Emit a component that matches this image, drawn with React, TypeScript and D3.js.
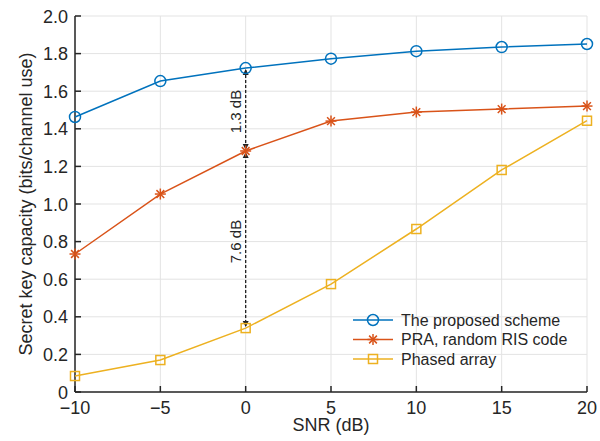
import React from "react";
import * as d3 from "d3";

const snr = [-10, -5, 0, 5, 10, 15, 20];
const proposed = [1.463, 1.654, 1.723, 1.773, 1.813, 1.835, 1.851];
const pra = [0.734, 1.053, 1.282, 1.441, 1.489, 1.505, 1.521];
const phased = [0.085, 0.17, 0.34, 0.574, 0.867, 1.181, 1.443];
const xTicks = [-10, -5, 0, 5, 10, 15, 20];
const yTicks = [0, 0.2, 0.4, 0.6, 0.8, 1.0, 1.2, 1.4, 1.6, 1.8, 2.0];
const seriesNames = ["The proposed scheme", "PRA, random RIS code", "Phased array"];
const seriesColors = ["#0072BD", "#D95319", "#EDB120"];
const annotations = ["1.3 dB", "7.6 dB"];

const W = 600, H = 441;
const L = 75, R = 587, T = 16, B = 392;
const FONT = "'Liberation Sans', Arial, Helvetica, sans-serif";

function Marker({ type, x, y, color }: { type: string; x: number; y: number; color: string }) {
  if (type === "circle") return <circle cx={x} cy={y} r={5.5} fill="none" stroke={color} strokeWidth={1.5} />;
  if (type === "square") return <rect x={x - 4.5} y={y - 4.5} width={9} height={9} fill="none" stroke={color} strokeWidth={1.5} />;
  const s = 5.5;
  const d = s * 0.707;
  return (
    <g stroke={color} strokeWidth={1.5}>
      <line x1={x - s} y1={y} x2={x + s} y2={y} />
      <line x1={x} y1={y - s} x2={x} y2={y + s} />
      <line x1={x - d} y1={y - d} x2={x + d} y2={y + d} />
      <line x1={x - d} y1={y + d} x2={x + d} y2={y - d} />
    </g>
  );
}

export default function App() {
  const x = d3.scaleLinear().domain([-10, 20]).range([L, R]);
  const y = d3.scaleLinear().domain([0, 2]).range([B, T]);
  const line = d3.line<number>().x((_, i) => x(snr[i])).y((v) => y(v));
  const series = [proposed, pra, phased];
  const markers = ["circle", "star", "square"];
  const fmtY = (v: number) => (v === 0 ? "0" : v.toFixed(1));
  const fmtX = (v: number) => (v < 0 ? "\u2212" + Math.abs(v) : String(v));

  const ax = x(0);
  const yb = y(proposed[2]);
  const yr = y(pra[2]);
  const yy = y(phased[2]);
  const arrow = (xx: number, yy0: number, dir: number) =>
    `M${xx - 3},${yy0 - dir * 6} L${xx},${yy0} L${xx + 3},${yy0 - dir * 6} Z`;

  return (
    <svg width={W} height={H} style={{ position: "absolute", left: 0, top: 0, background: "#fff" }} fontFamily={FONT}>
      {/* grid */}
      <g stroke="#e3e3e3" strokeWidth={1}>
        {xTicks.map((t) => (
          <line key={"gx" + t} x1={x(t)} x2={x(t)} y1={T} y2={B} />
        ))}
        {yTicks.map((t) => (
          <line key={"gy" + t} x1={L} x2={R} y1={y(t)} y2={y(t)} />
        ))}
      </g>
      {/* axes */}
      <g stroke="#262626" strokeWidth={1.5}>
        <line x1={L} x2={L} y1={T} y2={B} />
        <line x1={L} x2={R} y1={B} y2={B} />
        {xTicks.map((t) => (
          <line key={"tx" + t} x1={x(t)} x2={x(t)} y1={B} y2={B - 6} />
        ))}
        {yTicks.map((t) => (
          <line key={"ty" + t} x1={L} x2={L + 6} y1={y(t)} y2={y(t)} />
        ))}
      </g>
      <g fill="#262626" fontSize={18}>
        {xTicks.map((t) => (
          <text key={"lx" + t} x={x(t)} y={B + 22} textAnchor="middle">
            {fmtX(t)}
          </text>
        ))}
        {yTicks.map((t) => (
          <text key={"ly" + t} x={L - 7} y={y(t) + 6.5} textAnchor="end">
            {fmtY(t)}
          </text>
        ))}
        <text x={(L + R) / 2} y={431} textAnchor="middle">SNR (dB)</text>
        <text transform={`translate(32,${(T + B) / 2}) rotate(-90)`} textAnchor="middle">
          Secret key capacity (bits/channel use)
        </text>
      </g>
      {/* annotation */}
      <g>
        <line x1={ax} x2={ax} y1={yb + 2} y2={yy - 2} stroke="#222" strokeWidth={1.3} strokeDasharray="3,2" />
        <path d={arrow(ax, yb + 1, -1)} fill="#222" />
        <path d={arrow(ax, yr - 1, 1)} fill="#222" />
        <path d={arrow(ax, yr + 1, -1)} fill="#222" />
        <path d={arrow(ax, yy - 1, 1)} fill="#222" />
        <text transform={`translate(241,${(yb + yr) / 2 + 2}) rotate(-90)`} textAnchor="middle" fontSize={15} fill="#262626">
          {annotations[0]}
        </text>
        <text transform={`translate(241,${(yr + yy) / 2 + 2}) rotate(-90)`} textAnchor="middle" fontSize={15} fill="#262626">
          {annotations[1]}
        </text>
      </g>
      {/* series */}
      {series.map((s, k) => (
        <g key={"s" + k}>
          <path d={line(s) || ""} fill="none" stroke={seriesColors[k]} strokeWidth={1.5} />
          {s.map((v, i) => (
            <Marker key={i} type={markers[k]} x={x(snr[i])} y={y(v)} color={seriesColors[k]} />
          ))}
        </g>
      ))}
      {/* legend */}
      <g fontSize={16} fill="#262626">
        {seriesNames.map((n, k) => {
          const ly = 320 + k * 19.5;
          return (
            <g key={"lg" + k}>
              <line x1={353} x2={393} y1={ly} y2={ly} stroke={seriesColors[k]} strokeWidth={1.5} />
              <Marker type={markers[k]} x={373} y={ly} color={seriesColors[k]} />
              <text x={401} y={ly + 5.5} fill="#262626">{n}</text>
            </g>
          );
        })}
      </g>
    </svg>
  );
}
